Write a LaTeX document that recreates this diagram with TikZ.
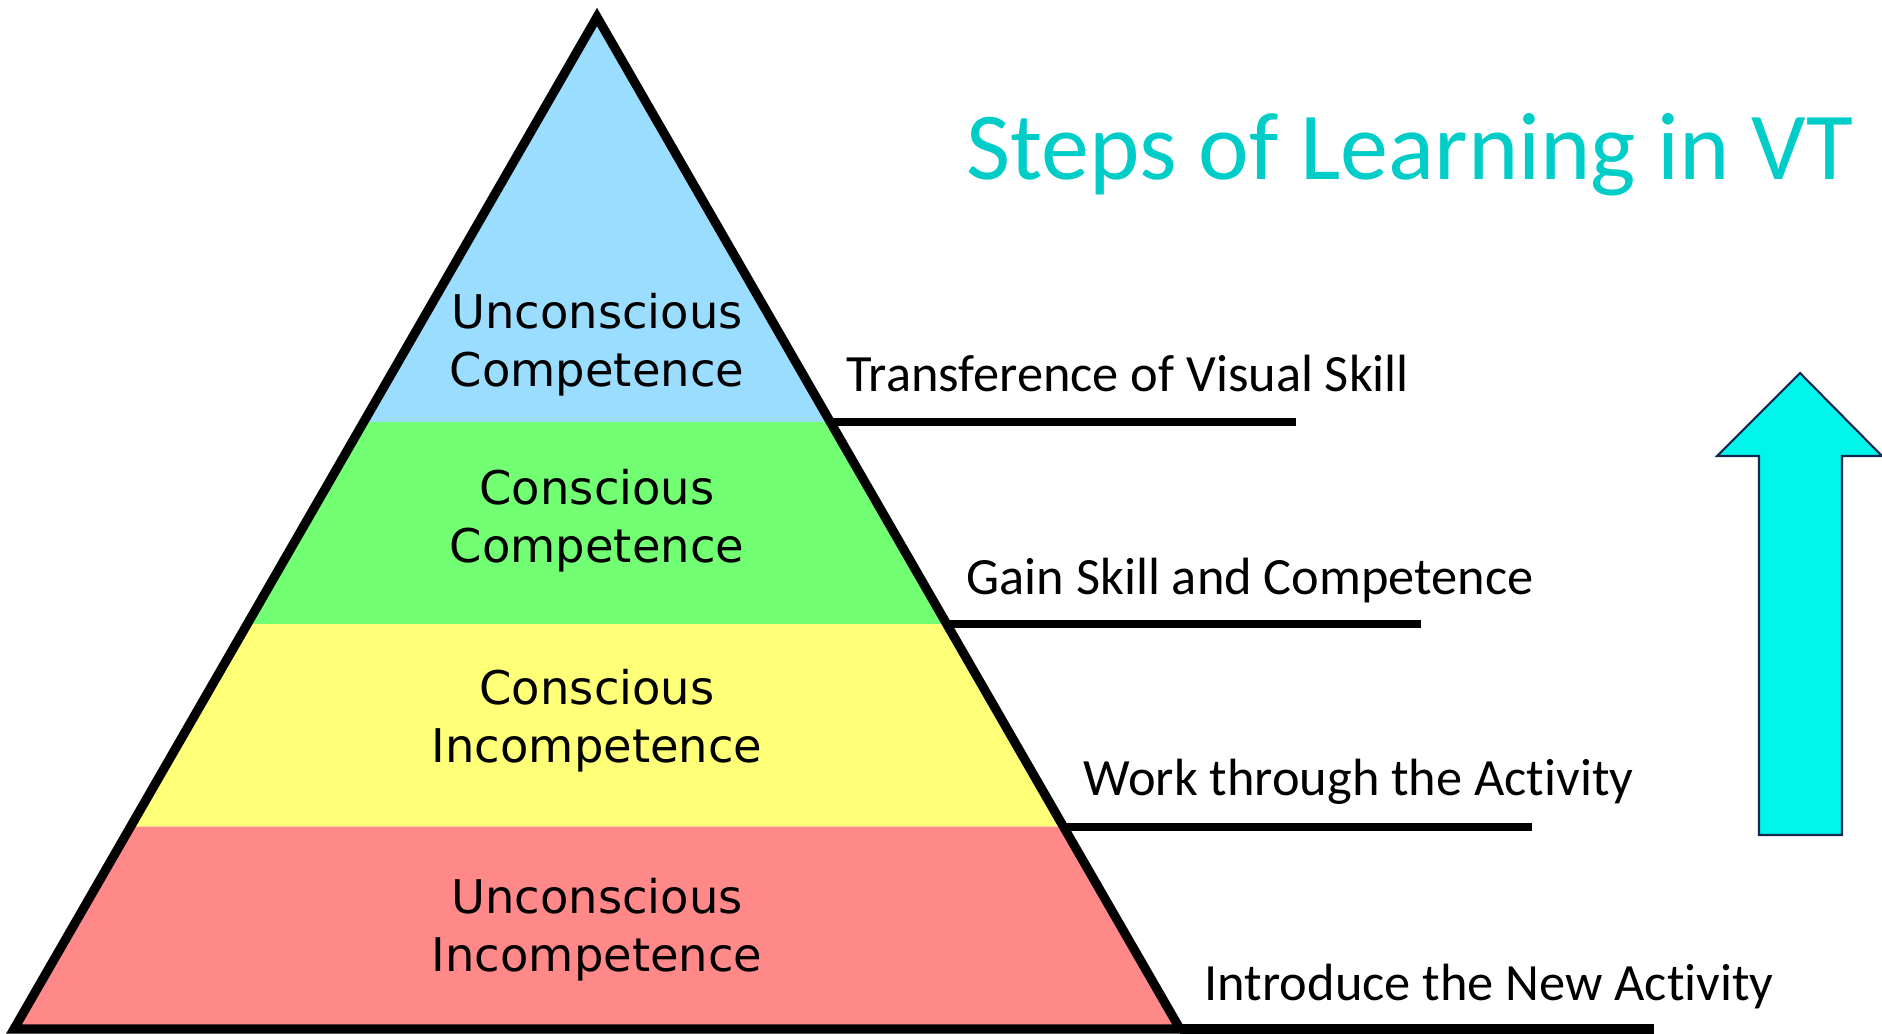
\documentclass[tikz,border=0pt]{standalone}
\usepackage{fontspec}
\setmainfont{Carlito}[Ligatures=NoCommon]
\newfontfamily\pyrfont{DejaVu Sans}
\usetikzlibrary{calc}
\definecolor{blueband}{RGB}{155,221,255}
\definecolor{greenband}{RGB}{115,255,115}
\definecolor{yellowband}{RGB}{255,255,120}
\definecolor{redband}{RGB}{255,136,136}
\definecolor{titlecol}{RGB}{0,205,200}
\definecolor{arrowfill}{RGB}{0,245,235}
\definecolor{arrowline}{RGB}{20,40,80}

\begin{document}
\begin{tikzpicture}[x=0.01cm,y=-0.01cm,
        level/.style={align=center,font=\pyrfont\fontsize{13.2}{16.4}\selectfont},
        step label/.style={anchor=base west,inner sep=0pt,font=\fontsize{14.9}{17}\selectfont},
        levelline/.style={line width=2.3pt}]
                \useasboundingbox (0,0) rectangle (1882,1034);
                \coordinate (apex) at (597,17);
                \coordinate (bl) at (14,1029);
                \coordinate (br) at (1180,1029);
                \coordinate (l1) at ($(apex)!0.4!(bl)$);
                \coordinate (r1) at ($(apex)!0.4!(br)$);
                \coordinate (l2) at ($(apex)!0.6!(bl)$);
                \coordinate (r2) at ($(apex)!0.6!(br)$);
                \coordinate (l3) at ($(apex)!0.8!(bl)$);
                \coordinate (r3) at ($(apex)!0.8!(br)$);
                \fill[blueband] (apex)--(r1)--(l1)--cycle;
                \fill[greenband] (l1)--(r1)--(r2)--(l2)--cycle;
                \fill[yellowband] (l2)--(r2)--(r3)--(l3)--cycle;
                \fill[redband] (l3)--(r3)--(br)--(bl)--cycle;
                \draw[line width=2.6pt,line join=miter] (apex)--(br)--(bl)--cycle;
                \coordinate (s1) at (1296,0);
                \coordinate (s2) at (1421,0);
                \coordinate (s3) at (1532,0);
                \coordinate (s4) at (1654,0);
                \draw[levelline] (r1)--(r1 -| s1);
                \draw[levelline] (r2)--(r2 -| s2);
                \draw[levelline] (r3)--(r3 -| s3);
                \draw[line width=2.6pt] (br)--(br -| s4);
                \node[level] (uc) at (597,345) {Unconscious\\Competence};
                \node[level] (cc) at (597,521) {Conscious\\Competence};
                \node[level] (ci) at (597,721) {Conscious\\Incompetence};
                \node[level] (ui) at (597,930) {Unconscious\\Incompetence};
                \node[step label] (transfer) at (846,392) {Transference of Visual Skill};
                \node[step label] (gain) at (966,595) {Gain Skill and Competence};
                \node[step label] (work) at (1083,795) {Work through the Activity};
                \node[step label] (intro) at (1204,1000) {Introduce the New Activity};
                \node[anchor=base west,inner sep=0pt,text=titlecol,font=\fontsize{27.3}{32}\selectfont] (title) at (966,180) {Steps of Learning in VT};
                \draw[arrowline,fill=arrowfill,line width=0.6pt] (1759,835)--(1759,456)--(1717,456)--(1800,373)--(1882,456)--(1842,456)--(1842,835)--cycle;
            \end{tikzpicture}
\end{document}
